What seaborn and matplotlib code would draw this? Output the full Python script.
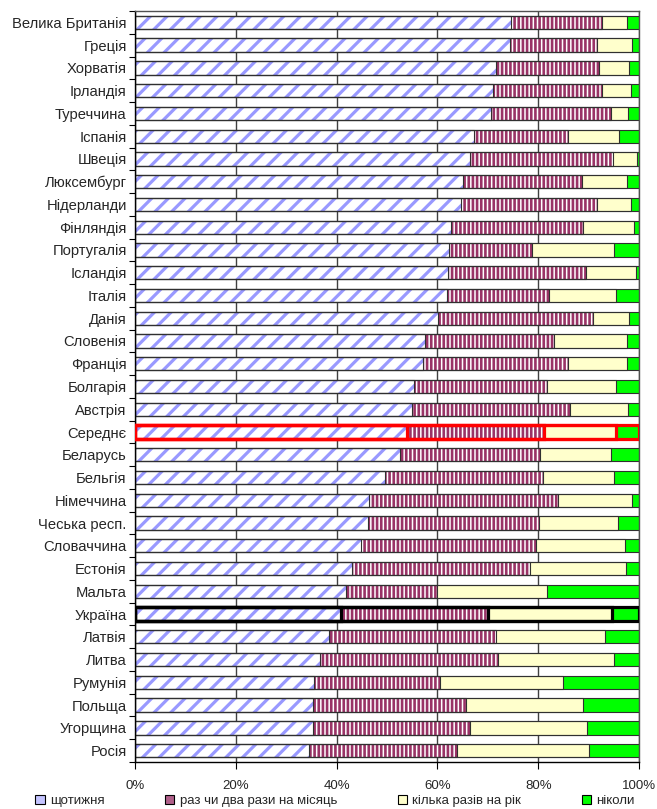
import numpy as np
import pandas as pd
import seaborn as sns
import matplotlib.pyplot as plt
from matplotlib.patches import Patch
from matplotlib.ticker import PercentFormatter, FixedLocator

countries = ["Велика Британія", "Греція", "Хорватія", "Ірландія", "Туреччина",
             "Іспанія", "Швеція", "Люксембург", "Нідерланди", "Фінляндія",
             "Португалія", "Ісландія", "Італія", "Данія", "Словенія", "Франція",
             "Болгарія", "Австрія", "Середнє", "Беларусь", "Бельгія", "Німеччина",
             "Чеська респ.", "Словаччина", "Естонія", "Мальта", "Україна",
             "Латвія", "Литва", "Румунія", "Польща", "Угорщина", "Росія"]

weekly = [74.7, 74.5, 71.6, 71.0, 70.6, 67.3, 66.5, 65.0, 64.6, 62.6, 62.4,
          62.2, 61.9, 60.2, 57.6, 57.2, 55.3, 54.9, 53.9, 52.6, 49.6, 46.4,
          46.2, 44.9, 43.1, 41.8, 40.9, 38.4, 36.8, 35.5, 35.4, 35.4, 34.5]
monthly = [17.9, 17.2, 20.5, 21.6, 23.9, 18.7, 28.4, 23.6, 27.1, 26.3, 16.3,
           27.2, 20.2, 30.6, 25.6, 28.8, 26.4, 31.5, 27.3, 27.8, 31.4, 37.5,
           34.0, 34.7, 35.2, 18.2, 29.1, 33.2, 35.3, 25.1, 30.2, 31.1, 29.3]
yearly = [5.1, 7.0, 6.0, 5.9, 3.4, 10.0, 4.8, 9.1, 6.8, 10.1, 16.4,
          10.1, 13.3, 7.3, 14.4, 11.6, 13.7, 11.5, 14.2, 14.0, 14.1, 14.8,
          15.7, 17.6, 19.1, 21.7, 24.6, 21.7, 23.0, 24.3, 23.3, 23.1, 26.3]
never = [2.3, 1.3, 1.9, 1.5, 2.1, 4.0, 0.3, 2.3, 1.5, 1.0, 4.9,
         0.5, 4.6, 1.9, 2.4, 2.4, 4.6, 2.1, 4.6, 5.6, 4.9, 1.3,
         4.1, 2.8, 2.6, 18.3, 5.4, 6.7, 4.9, 15.1, 11.1, 10.4, 9.9]

series_labels = ["щотижня", "раз чи два рази на місяць", "кілька разів на рік", "ніколи"]

# look of each series: face colour, hatch, hatch colour, hatch width
styles = [
    {"face": "white", "hatch": "//", "hcolor": "#9999ff", "hlw": 2.3},
    {"face": "white", "hatch": "||||", "hcolor": "#993366", "hlw": 1.9},
    {"face": "#ffffcc", "hatch": None, "hcolor": "#ffffcc", "hlw": 1.0},
    {"face": "#00ff00", "hatch": None, "hcolor": "#00ff00", "hlw": 1.0},
]
legend_faces = ["#c4c4ff", "#b0608a", "#ffffcc", "#00ff00"]

highlight = {"Середнє": "#ff0000", "Україна": "#000000"}

df = pd.DataFrame({"country": countries, "weekly": weekly, "monthly": monthly,
                   "yearly": yearly, "never": never})
cols = ["weekly", "monthly", "yearly", "never"]
cum = df[cols].cumsum(axis=1)
cum = cum.div(cum["never"], axis=0) * 100

sns.set_theme(style="ticks")
plt.rcParams["font.family"] = ["Liberation Sans", "DejaVu Sans"]
plt.rcParams["hatch.linewidth"] = 2.0

fig = plt.figure(figsize=(6.57, 8.09), dpi=100)
ax = fig.add_axes([0.2055, 0.0581, 0.7671, 0.9283])

bar_w = 0.585

# filled layers, widest first so the narrower ones sit on top
for i in reversed(range(4)):
    st = styles[i]
    n0 = len(ax.patches)
    sns.barplot(x=cum[cols[i]], y=df["country"], orient="h", errorbar=None,
                color=st["face"], saturation=1, width=bar_w, ax=ax)
    for p in ax.patches[n0:]:
        p.set_facecolor(st["face"])
        p.set_edgecolor(st["hcolor"])
        p.set_linewidth(0)
        if st["hatch"]:
            p.set_hatch(st["hatch"])
            if hasattr(p, "set_hatch_linewidth"):
                p.set_hatch_linewidth(st["hlw"])

# outlines of every segment
for i in reversed(range(4)):
    n0 = len(ax.patches)
    sns.barplot(x=cum[cols[i]], y=df["country"], orient="h", errorbar=None,
                color="white", saturation=1, width=bar_w, ax=ax)
    for k, p in enumerate(ax.patches[n0:]):
        p.set_facecolor("none")
        name = countries[k]
        if name in highlight:
            p.set_edgecolor(highlight[name])
            p.set_linewidth(2.3)
            p.set_zorder(3)
        else:
            p.set_edgecolor("#303030")
            p.set_linewidth(0.8)

ax.set_xlim(0, 100)
ax.set_ylim(len(countries) - 0.5, -0.5)
ax.set_xticks(range(0, 101, 20))
ax.xaxis.set_major_formatter(PercentFormatter(decimals=0))
ax.xaxis.grid(True, color="#404040", linewidth=1.0)
ax.yaxis.grid(False)
ax.set_axisbelow(True)
ax.set_xlabel("")
ax.set_ylabel("")

ax.yaxis.set_minor_locator(FixedLocator(np.arange(-0.5, len(countries), 1)))
ax.tick_params(axis="y", which="major", length=0, pad=6, labelsize=10.6)
ax.tick_params(axis="y", which="minor", length=4, width=0.8, color="black")
ax.tick_params(axis="x", length=5, width=0.8, color="black", labelsize=9.5, pad=8)

for side in ["left", "bottom"]:
    ax.spines[side].set_color("black")
    ax.spines[side].set_linewidth(1.0)
for side in ["top", "right"]:
    ax.spines[side].set_color("#505050")
    ax.spines[side].set_linewidth(1.0)

handles = [Patch(facecolor=legend_faces[i], edgecolor="black", linewidth=0.8)
           for i in range(4)]
fig.legend(handles, series_labels, loc="lower center", bbox_to_anchor=(0.51, -0.012),
           ncol=4, frameon=False, fontsize=9.5, handlelength=0.7, handleheight=0.7,
           handletextpad=0.4, columnspacing=4.6)

fig.savefig("out.png", dpi=100)
